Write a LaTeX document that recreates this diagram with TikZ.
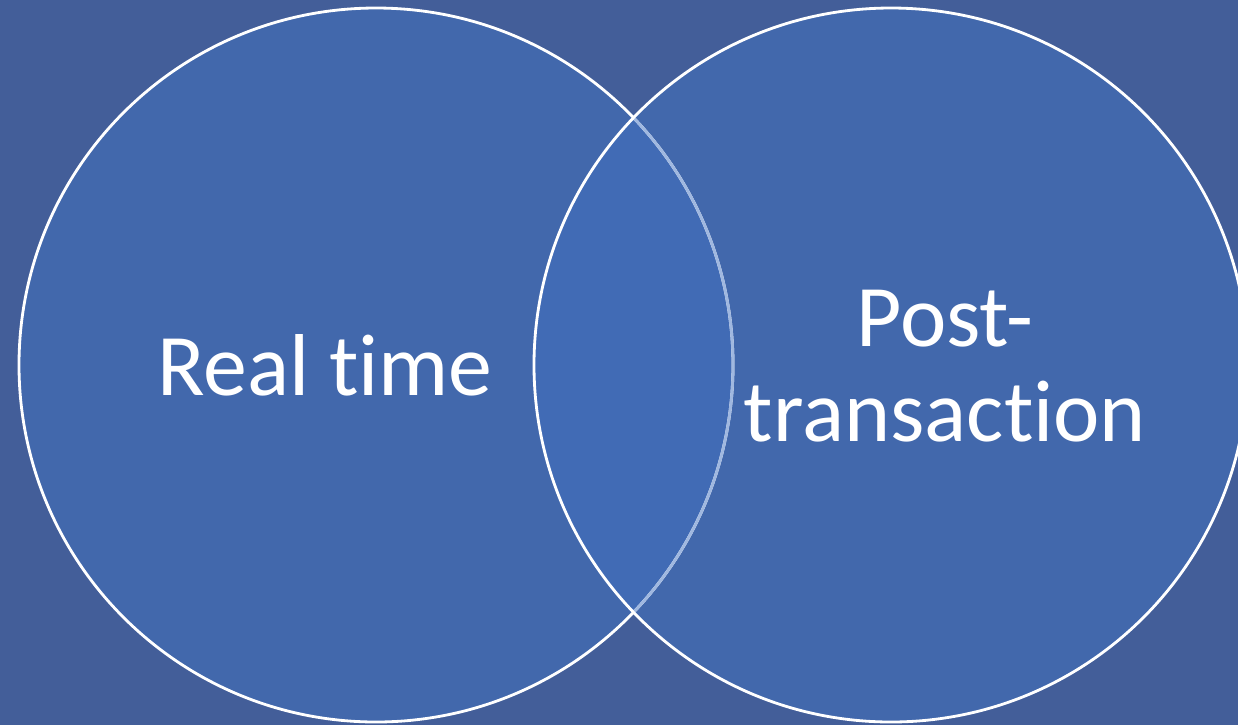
\documentclass[tikz,border=0pt]{standalone}
\usepackage{fontspec}
\setmainfont[Ligatures=NoCommon]{Carlito}
\definecolor{bgblue}{RGB}{67,94,153}
\definecolor{circblue}{RGB}{66,104,172}
\definecolor{overblue}{RGB}{65,107,181}
\definecolor{thinline}{RGB}{160,184,224}
\tikzset{
  venn/.style={draw=white, line width=1.6pt},
  lbl/.style={text=white, font=\fontsize{50}{54}\selectfont, align=center}
}
\begin{document}
\begin{tikzpicture}[x=0.02cm, y=-0.02cm]
    \clip (0,0) rectangle (1238,725);
    \fill[bgblue] (0,0) rectangle (1238,725);
    \coordinate (lc) at (376,365);
    \coordinate (rc) at (891,365);
    \fill[circblue] (lc) circle[radius=357];
    \fill[circblue] (rc) circle[radius=357];
    % overlap
    \begin{scope}
        \clip (lc) circle[radius=357];
        \fill[overblue] (rc) circle[radius=357];
    \end{scope}
    \draw[venn] (lc) circle[radius=357];
    \begin{scope}
        \clip (rc) circle[radius=357];
        \draw[venn, draw=thinline] (lc) circle[radius=357];
    \end{scope}
    \draw[venn] (rc) circle[radius=357];
    \node[lbl] (realtime) at (325,365) {Real time};
    \node[lbl] (posttrans) at (945,366) {Post-\\transaction};
\end{tikzpicture}
\end{document}
